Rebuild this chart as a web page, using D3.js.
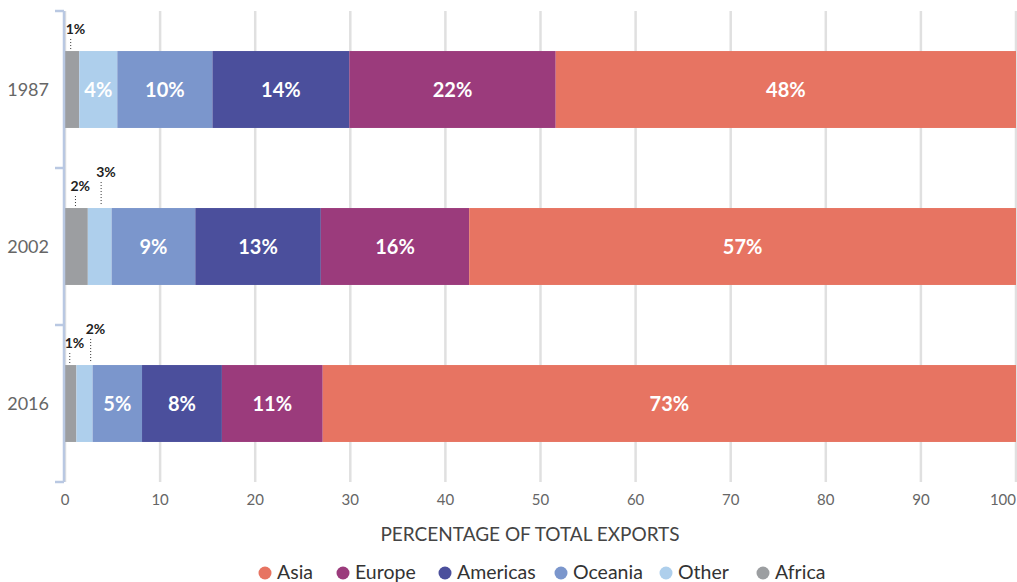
<!DOCTYPE html>
<html><head><meta charset="utf-8">
<script src="https://cdn.jsdelivr.net/npm/d3@7"></script>
<style>body{margin:0;background:#fff}svg{display:block}</style>
</head><body><svg id="c" width="1017" height="582"></svg>
<script>
const years = ["1987", "2002", "2016"];
const regions = ["Africa", "Other", "Oceania", "Americas", "Europe", "Asia"];
const africa   = [1.5, 2.4, 1.2];
const other    = [4.0, 2.5, 1.7];
const oceania  = [10.0, 8.8, 5.2];
const americas = [14.4, 13.2, 8.4];
const europe   = [21.7, 15.6, 10.6];
const asia     = [48.4, 57.5, 72.9];
const labelAfrica   = ["1%", "2%", "1%"];
const labelOther    = ["4%", "3%", "2%"];
const labelOceania  = ["10%", "9%", "5%"];
const labelAmericas = ["14%", "13%", "8%"];
const labelEurope   = ["22%", "16%", "11%"];
const labelAsia     = ["48%", "57%", "73%"];
// callout anchor positions (in % units) for the small segments
const calloutAfrica = [0.6, 1.1, 0.5];
const calloutOther  = [null, 3.8, 2.7];
const xTicks = [0,10,20,30,40,50,60,70,80,90,100];
const legendOrder = ["Asia", "Europe", "Americas", "Oceania", "Other", "Africa"];
const colors = {Asia:"#E77462", Europe:"#9B3B7C", Americas:"#4B4F9C", Oceania:"#7B96CC", Other:"#AECFEC", Africa:"#9C9EA1"};

const series = {Africa:africa, Other:other, Oceania:oceania, Americas:americas, Europe:europe, Asia:asia};
const labels = {Africa:labelAfrica, Other:labelOther, Oceania:labelOceania, Americas:labelAmericas, Europe:labelEurope, Asia:labelAsia};
const callouts = {Africa:calloutAfrica, Other:calloutOther};

const rows = years.map((y,i)=>{const r={year:y}; regions.forEach(k=>r[k]=series[k][i]); return r;});
const stack = d3.stack().keys(regions)(rows);

const svg = d3.select("#c");
const font = "Lato, 'Open Sans', sans-serif";
const x = d3.scaleLinear().domain([0,100]).range([65,1016]);
const y = d3.scaleBand().domain(years).range([11,482]).paddingInner(0.51).paddingOuter(0.255);

// gridlines
svg.append("g").selectAll("line").data(xTicks).join("line")
  .attr("x1",d=>x(d)).attr("x2",d=>x(d)).attr("y1",11).attr("y2",482)
  .attr("stroke","#e0e0e0").attr("stroke-width",2.5);

// x tick labels
svg.append("g").selectAll("text").data(xTicks).join("text")
  .attr("x",d=>x(d)).attr("y",505).attr("text-anchor",(d,i)=>i===xTicks.length-1?"end":"middle")
  .attr("font-family",font).attr("font-size",15).attr("fill","#666").text(d=>d);

// bars
const g = svg.append("g");
stack.forEach(s=>{
  g.selectAll(null).data(s).join("rect")
    .attr("x",d=>x(d[0])).attr("width",d=>x(d[1])-x(d[0]))
    .attr("y",d=>y(d.data.year)).attr("height",y.bandwidth())
    .attr("fill",colors[s.key]);
});

// inside labels (for segments wide enough)
stack.forEach(s=>{
  s.forEach((d,i)=>{
    if (callouts[s.key] && callouts[s.key][i] !== null) return;
    g.append("text").attr("x",(x(d[0])+x(d[1]))/2).attr("y",y(d.data.year)+y.bandwidth()/2+7)
      .attr("text-anchor","middle").attr("font-family",font).attr("font-weight",700)
      .attr("font-size",20).attr("fill","#fff").text(labels[s.key][i]);
  });
});

// outside callouts for small segments
stack.forEach(s=>{
  s.forEach((d,i)=>{
    if (!callouts[s.key] || callouts[s.key][i] === null) return;
    const top = y(d.data.year);
    const high = s.key==="Other";
    const lx = x(callouts[s.key][i]);
    const base = high ? top-31 : top-17;
    g.append("line").attr("x1",lx).attr("x2",lx).attr("y1",base+5).attr("y2",top-2)
      .attr("stroke","#333").attr("stroke-width",1).attr("stroke-dasharray","1,2");
    g.append("text").attr("x",lx-5).attr("y",base).attr("font-family",font).attr("font-weight",700)
      .attr("font-size",14).attr("fill","#222").text(labels[s.key][i]);
  });
});

// y axis bracket
const ax = svg.append("g").attr("stroke","#b9c8e2").attr("stroke-width",2.5).attr("fill","none");
ax.append("line").attr("x1",64).attr("x2",64).attr("y1",11).attr("y2",482);
const bounds = [11].concat(years.slice(0,2).map(yr=>y(yr)+y.bandwidth()+y.step()*y.paddingInner()/2)).concat([482]);
ax.selectAll(null).data(bounds).join("line").attr("x1",55).attr("x2",64).attr("y1",d=>d).attr("y2",d=>d);

svg.append("g").selectAll("text").data(years).join("text")
  .attr("x",49).attr("y",d=>y(d)+y.bandwidth()/2+6).attr("text-anchor","end")
  .attr("font-family",font).attr("font-size",18).attr("fill","#666").text(d=>d);

// axis title
svg.append("text").attr("x",530).attr("y",541).attr("text-anchor","middle")
  .attr("font-family",font).attr("font-size",19).attr("fill","#444").text("PERCENTAGE OF TOTAL EXPORTS");

// legend
const legendX = [265, 343, 445, 561, 666, 763];
const lg = svg.append("g");
legendOrder.forEach((k,i)=>{
  lg.append("circle").attr("cx",legendX[i]).attr("cy",573).attr("r",6.5).attr("fill",colors[k]);
  lg.append("text").attr("x",legendX[i]+12).attr("y",579).attr("font-family",font)
    .attr("font-size",19.5).attr("fill","#333").text(k);
});
</script></body></html>
